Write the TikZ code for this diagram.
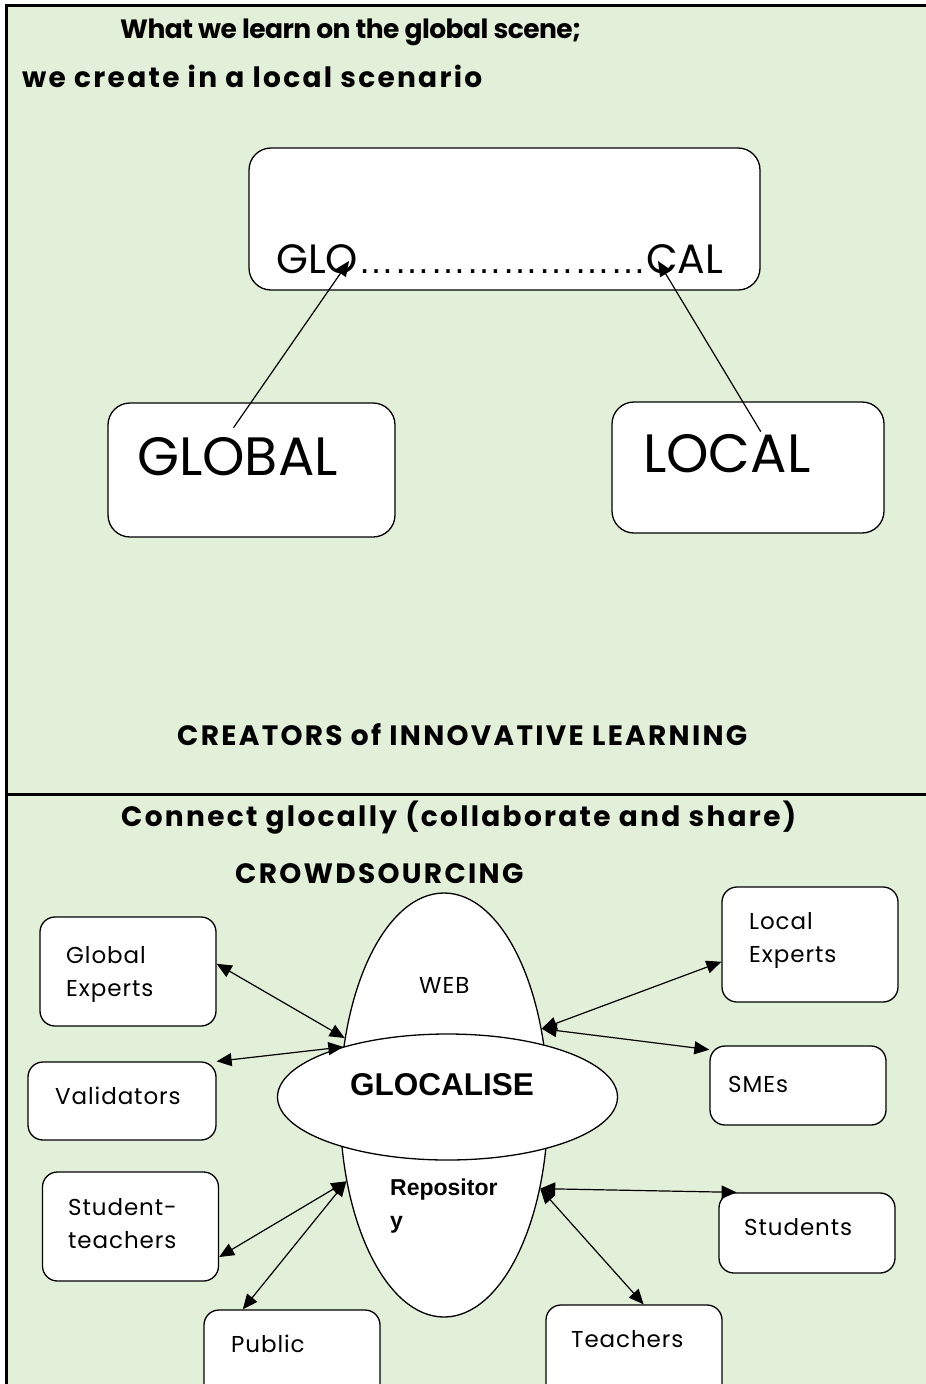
\documentclass[tikz,border=0pt]{standalone}
\usepackage{fontspec}
\setmainfont{Poppins}
\newfontfamily\arialfont{Liberation Sans}
\newfontfamily\widefont[LetterSpace=8.2]{Poppins}
\newfontfamily\tightfont[LetterSpace=-2]{Poppins}
\newfontfamily\labelfont[LetterSpace=4]{Poppins}
\usetikzlibrary{arrows.meta,shapes.geometric}
\definecolor{leafbg}{HTML}{E2EFD9}

\begin{document}
\begin{tikzpicture}
[x=1pt,y=-1pt,
 box/.style={draw=black,fill=white,line width=1.3pt,rounded corners=22pt,inner sep=0pt},
 sbox/.style={draw=black,fill=white,line width=1.3pt,rounded corners=15pt,inner sep=0pt,minimum width=176pt},
 oval/.style={ellipse,draw=black,fill=white,line width=1.3pt,inner sep=0pt},
 head/.style={font=\tightfont\bfseries\fontsize{26.5}{32}\selectfont,inner sep=0pt,anchor=base west},
 widehead/.style={font=\widefont\bfseries\fontsize{28}{32}\selectfont,inner sep=0pt,anchor=base west},
 big/.style={font=\fontsize{54}{60}\selectfont,inner sep=0pt,anchor=base west},
 lbl/.style={font=\labelfont\fontsize{23}{33}\selectfont,inner sep=0pt,anchor=base west,align=left,text width=150pt},
 link/.style={line width=1.2pt,-{Triangle[length=15pt,width=13pt]}},
 twoway/.style={line width=1.2pt,{Triangle[length=15pt,width=13pt]}-{Triangle[length=15pt,width=13pt]}}]
\useasboundingbox (0,0) rectangle (926,1384);

% table cells
\fill[leafbg] (6,5) rectangle (926,1384);
\draw[line width=3pt] (6,1384) -- (6,5) -- (926,5);
\draw[line width=3pt] (6,794) -- (926,794);

% upper cell
\node[head] (t1) at (120,38) {What we learn on the global scene;};
\node[widehead] (t2) at (22,87) {we create in a local scenario};

\node[box,minimum width=511pt,minimum height=142pt] (glocal) at (504.5,219) {};
\node[inner sep=0pt,anchor=base west,font=\fontsize{41}{44}\selectfont] (glocal-t) at (276,273)
  {GLO{\arialfont\fontsize{36}{40}\selectfont ……………………}CAL};
\node[box,minimum width=287pt,minimum height=134pt] (global) at (251.5,470) {};
\node[big] (global-t) at (137,475) {GLOBAL};
\node[box,minimum width=272pt,minimum height=131pt] (local) at (748,467.5) {};
\node[big] (local-t) at (643,472) {LOCAL};

\coordinate (glo) at (349,261);
\coordinate (cal) at (658,261);
\draw[link] (global-t.north) ++(-4,-9) -- (glo);
\draw[link] (local-t.north) ++(34,-2) -- (cal);

\node[widehead] (creators) at (177,745) {CREATORS of INNOVATIVE LEARNING};

% lower cell
\node[widehead] (connect) at (121,826) {Connect glocally (collaborate and share)};
\node[widehead] (crowd) at (235,883) {CROWDSOURCING};

\node[oval,minimum width=208pt,minimum height=424pt] (web) at (444,1105) {};
\node[oval,minimum width=340pt,minimum height=126pt] (glo-ell) at (447.5,1097) {};
\node[lbl] (web-t) at (419,993) {WEB};
\node[inner sep=0pt,anchor=base west,font=\arialfont\bfseries\fontsize{31.5}{36}\selectfont] (glo-t) at (350,1095) {GLOCALISE};
\node[lbl,font=\arialfont\bfseries\fontsize{23}{33}\selectfont] (repo-t) at (390,1195) {Repositor\\y};

\node[sbox,minimum height=109pt] (gexp) at (128,971.5) {};
\node[lbl] (gexp-t) at (66,963) {Global\\Experts};
\node[sbox,minimum width=188pt,minimum height=78pt] (valid) at (122,1101) {};
\node[lbl] (valid-t) at (55,1104) {Validators};
\node[sbox,minimum height=109pt] (stud-t) at (130.5,1226.5) {};
\node[lbl] (stud-t-t) at (68,1215) {Student-\\teachers};
\node[sbox,minimum height=108pt] (public) at (292,1364) {};
\node[lbl] (public-t) at (231,1352) {Public};

\node[sbox,minimum height=115pt] (lexp) at (810,944.5) {};
\node[lbl] (lexp-t) at (749,929) {Local\\Experts};
\node[sbox,minimum height=79pt] (smes) at (798,1085.5) {};
\node[lbl] (smes-t) at (728,1092) {SMEs};
\node[sbox,minimum height=80pt] (studs) at (807,1233) {};
\node[lbl] (studs-t) at (744,1235) {Students};
\node[sbox,minimum height=108pt] (teach) at (634,1359) {};
\node[lbl] (teach-t) at (571,1347) {Teachers};

\draw[twoway] (gexp.5) -- (web.146);
\draw[twoway] (valid.north east) -- (web.150);
\draw[twoway] (stud-t.-19) -- (web.218);
\draw[twoway] (public.132) -- (web.218);
\draw[twoway] (lexp.191) -- (web.38);
\draw[twoway] (smes.158) -- (web.38);
\draw[twoway] (studs.150) -- (web.-41);
\draw[twoway] (teach.80) -- (web.-41);
\end{tikzpicture}
\end{document}
